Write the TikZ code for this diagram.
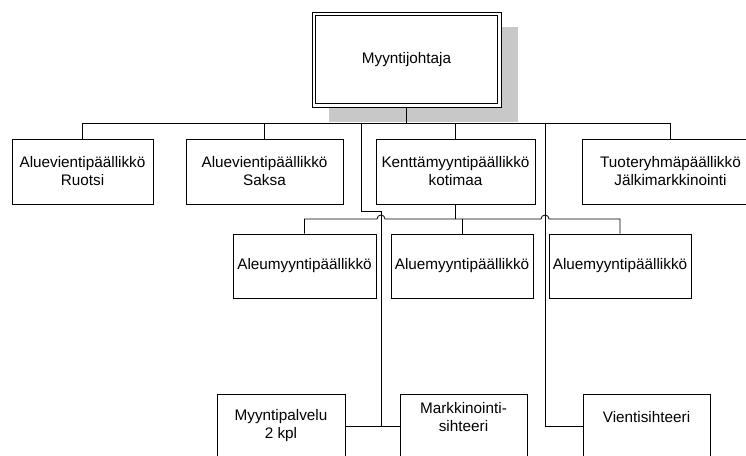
\documentclass[tikz,border=0pt]{standalone}
\usepackage{fontspec}
\setmainfont{Liberation Sans}
\usetikzlibrary{positioning,calc,shadows}
\definecolor{varjo}{RGB}{200,200,200}

\begin{document}
\begin{tikzpicture}[x=1pt, y=-1pt,
  every node/.style={draw, rectangle, align=center, inner sep=3pt, line width=0.8pt,
    font=\fontsize{15.3}{18}\selectfont},
  yhteys/.style={line width=0.8pt},
  paksu/.style={line width=1.6pt}]
  \clip (0,0) rectangle (746,455);

  % Solmut
  \node[fill=white, line width=1pt, minimum width=189pt, minimum height=95pt,
    general shadow={fill=varjo, draw=none, shadow xshift=17pt, shadow yshift=-15pt}] (johtaja) at (406.5,59.5) {Myyntijohtaja};
  \draw[line width=1pt] ([shift={(4,4)}]johtaja.north west) rectangle ([shift={(-4,-4)}]johtaja.south east);
  \node[minimum width=141pt, minimum height=65pt] (ruotsi) at (82.5,171.5) {Aluevientipäällikkö\\Ruotsi};
  \node[minimum width=157pt, minimum height=65pt] (saksa) at (264.5,171.5) {Aluevientipäällikkö\\Saksa};
  \node[minimum width=159pt, minimum height=65pt] (kentta) at (455.5,171.5) {Kenttämyyntipäällikkö\\kotimaa};
  \node[minimum width=177pt, minimum height=65pt] (tuote) at (670.5,171.5) {Tuoteryhmäpäällikkö\\Jälkimarkkinointi};
  \node[minimum width=143pt, minimum height=64pt] (alue1) at (304.5,266) {Aleumyyntipäällikkö};
  \node[minimum width=142pt, minimum height=64pt] (alue2) at (462,266) {Aluemyyntipäällikkö};
  \node[minimum width=142pt, minimum height=64pt] (alue3) at (620,266) {Aluemyyntipäällikkö};
  \node[minimum width=128pt, minimum height=64pt] (palvelu) at (281,426) {Myyntipalvelu\\2 kpl};
  \node[minimum width=127pt, minimum height=64pt, text depth=19pt] (markkinointi) at (463.5,426) {Markkinointi-\\sihteeri};
  \node[minimum width=127pt, minimum height=64pt, text depth=19pt] (vienti) at (646.5,426) {Vientisihteeri};

  \coordinate (ylataso) at (408,123);
  \coordinate (alataso) at (455,219);
  \coordinate (k1) at (361,211);
  \coordinate (k2) at (381,211);
  \coordinate (k3) at (545,123);

  % Yhteydet
  \draw[paksu] (johtaja.south) -- (johtaja.south |- ylataso);
  \draw[yhteys] (ruotsi.north) -- (ruotsi.north |- ylataso) -- (tuote.north |- ylataso) -- (tuote.north);
  \draw[yhteys] (saksa.north) -- (saksa.north |- ylataso);
  \draw[yhteys] (kentta.north) -- (kentta.north |- ylataso);
  \draw[yhteys] (k1 |- ylataso) -- (k1) -- (k2) -- (k2 |- palvelu.east);
  \draw[yhteys] (palvelu.east) -- (markkinointi.west);
  \draw[yhteys] (k3) |- (vienti.west);
  \draw[paksu] (kentta.south) -- (kentta.south |- alataso);
  \draw[yhteys] (alue1.north) -- (alue1.north |- alataso)
    -- ($(k2 |- alataso)+(-4,0)$) arc[start angle=180, end angle=360, radius=4]
    -- ($(k3 |- alataso)+(-4,0)$) arc[start angle=180, end angle=360, radius=4]
    -- (alue3.north |- alataso) -- (alue3.north);
  \draw[yhteys] (alue2.north) -- (alue2.north |- alataso);
\end{tikzpicture}
\end{document}
